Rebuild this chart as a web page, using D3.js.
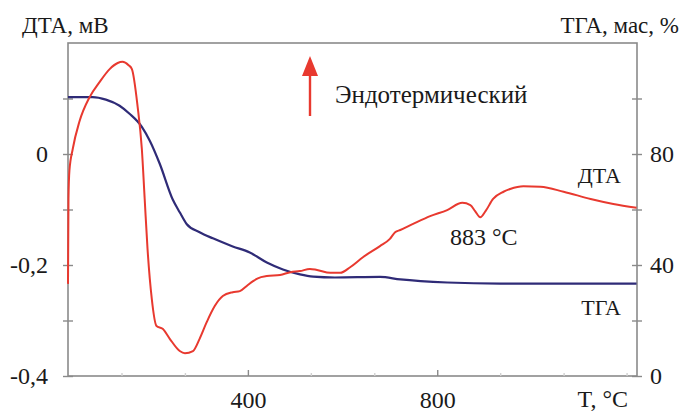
<!DOCTYPE html>
<html>
<head>
<meta charset="utf-8">
<script src="https://cdn.jsdelivr.net/npm/d3@7"></script>
</head>
<body style="margin:0">
<div id="root"></div>
<script>
// DTA curve, temperature (°C) and signal (mV)
const dtaT = [20, 21, 23, 30, 44, 66, 87, 108, 125, 135, 148, 155, 167, 176, 182, 188, 197, 207, 220, 235, 256, 267, 284, 298, 313, 330, 347, 368, 383, 400, 411, 421, 440, 468, 490, 510, 531, 546, 574, 595, 616, 643, 679, 700, 711, 722, 749, 785, 821, 853, 870, 880, 891, 902, 918, 940, 954, 982, 1018, 1067, 1124, 1172, 1221]
const dtaV = [-0.234, -0.08, -0.03, 0.009, 0.058, 0.103, 0.130, 0.153, 0.164, 0.166, 0.160, 0.153, 0.086, 0.009, -0.081, -0.171, -0.261, -0.310, -0.315, -0.333, -0.355, -0.359, -0.355, -0.333, -0.303, -0.274, -0.256, -0.249, -0.247, -0.236, -0.229, -0.224, -0.220, -0.218, -0.213, -0.211, -0.207, -0.209, -0.214, -0.214, -0.204, -0.186, -0.166, -0.153, -0.141, -0.137, -0.126, -0.112, -0.101, -0.088, -0.092, -0.103, -0.114, -0.103, -0.081, -0.068, -0.063, -0.058, -0.059, -0.068, -0.081, -0.090, -0.097]

// TGA curve, temperature (°C) and mass (%)
const tgaT = [20, 72, 100, 129, 150, 176, 193, 214, 241, 256, 271, 298, 326, 368, 404, 440, 474, 510, 538, 584, 679, 722, 821, 933, 1221]
const tgaM = [100.5, 100.5, 99.6, 97.4, 94.5, 89.8, 84.7, 76.4, 63.7, 59.0, 54.7, 51.8, 49.6, 46.7, 44.5, 40.9, 38.4, 36.6, 35.8, 35.5, 35.7, 34.8, 33.7, 33.3, 33.3]

const xMajor = [400, 800]
const xMinor = [133, 267, 533, 667, 933, 1067, 1200]
const yLeftMajor = [-0.4, -0.2, 0]
const yLeftMinor = [-0.3, -0.1, 0.1]
const yRightMajor = [0, 40, 80]
const yRightMinor = [20, 60, 100]

const width = 685
const height = 412
const plotLeft = 68, plotRight = 637, plotTop = 43, plotBottom = 376
const axisColor = '#8a8a8a'
const red = '#e8392f'
const blue = '#2f2b77'
const serif = "'Liberation Serif'"

const x = d3.scaleLinear().domain([20, 1222]).range([plotLeft, plotRight])
const yL = d3.scaleLinear().domain([-0.4, 0.2]).range([plotBottom, plotTop])
const yR = d3.scaleLinear().domain([0, 120]).range([plotBottom, plotTop])

const svg = d3.select('#root').append('svg')
  .attr('width', width)
  .attr('height', height)

const fmt = d => String(d).replace('.', ',')

// frame
svg.append('rect')
  .attr('x', plotLeft).attr('y', plotTop)
  .attr('width', plotRight - plotLeft).attr('height', plotBottom - plotTop)
  .attr('fill', 'none').attr('stroke', axisColor).attr('stroke-width', 1.6)

function styleAxis(g) {
  g.attr('font-family', null).attr('font-size', null)
  g.select('.domain').remove()
  g.selectAll('line').attr('stroke', axisColor).attr('stroke-width', 1.4)
  g.selectAll('text')
    .style('font-family', serif)
    .attr('font-size', 24)
    .attr('fill', '#1a1a1a')
}

// left axis: outer ticks with labels, inner ticks without
svg.append('g')
  .attr('transform', 'translate(' + plotLeft + ',0)')
  .call(d3.axisLeft(yL).tickValues(yLeftMajor.concat(yLeftMinor)).tickSize(5).tickPadding(15)
    .tickFormat(d => yLeftMajor.includes(d) ? fmt(d) : ''))
  .call(styleAxis)
svg.append('g')
  .attr('transform', 'translate(' + plotLeft + ',0)')
  .call(d3.axisRight(yL).tickValues(yLeftMajor.concat(yLeftMinor)).tickSize(5).tickFormat(''))
  .call(styleAxis)

// right axis
svg.append('g')
  .attr('transform', 'translate(' + plotRight + ',0)')
  .call(d3.axisRight(yR).tickValues(yRightMajor.concat(yRightMinor)).tickSize(5).tickPadding(8)
    .tickFormat(d => yRightMajor.includes(d) ? d : ''))
  .call(styleAxis)
svg.append('g')
  .attr('transform', 'translate(' + plotRight + ',0)')
  .call(d3.axisLeft(yR).tickValues(yRightMajor.concat(yRightMinor)).tickSize(5).tickFormat(''))
  .call(styleAxis)

// bottom axis: labels, major ticks pointing in, faint minor ticks
svg.append('g')
  .attr('transform', 'translate(0,' + plotBottom + ')')
  .call(d3.axisBottom(x).tickValues(xMajor).tickSize(0).tickPadding(15))
  .call(styleAxis)
svg.append('g')
  .attr('transform', 'translate(0,' + plotBottom + ')')
  .call(d3.axisTop(x).tickValues(xMajor).tickSize(6).tickFormat(''))
  .call(styleAxis)
svg.append('g')
  .attr('transform', 'translate(0,' + plotBottom + ')')
  .call(d3.axisTop(x).tickValues(xMinor).tickSize(3).tickFormat(''))
  .call(styleAxis)
  .selectAll('line').attr('stroke', '#d0d0d0')

// curves
const dtaLine = d3.line()
  .x(i => x(dtaT[i]))
  .y(i => yL(dtaV[i]))
  .curve(d3.curveMonotoneX)
const tgaLine = d3.line()
  .x(i => x(tgaT[i]))
  .y(i => yR(tgaM[i]))
  .curve(d3.curveMonotoneX)

svg.append('path')
  .attr('d', tgaLine(d3.range(tgaT.length)))
  .attr('fill', 'none').attr('stroke', blue).attr('stroke-width', 2.2)
svg.append('path')
  .attr('d', dtaLine(d3.range(dtaT.length)))
  .attr('fill', 'none').attr('stroke', red).attr('stroke-width', 2)

// titles and annotations
const label = (tx, ty, s, size, anchor) => svg.append('text')
  .attr('x', tx).attr('y', ty)
  .attr('text-anchor', anchor || 'start')
  .attr('fill', '#1a1a1a')
  .attr('font-size', size)
  .style('font-family', serif)
  .text(s)

label(22, 33, 'ДТА, мВ', 23)
label(679, 33, 'ТГА, мас, %', 23, 'end')
label(335, 103, 'Эндотермический', 25)
label(621, 183, 'ДТА', 22, 'end')
label(621, 315, 'ТГА', 22, 'end')
label(450, 245, '883 °C', 24)
label(628, 407, 'T, °C', 24, 'end')

// endothermic arrow
svg.append('line')
  .attr('x1', 310).attr('x2', 310)
  .attr('y1', 116).attr('y2', 70)
  .attr('stroke', red).attr('stroke-width', 2.4)
svg.append('path')
  .attr('d', 'M310,56 L318,76 L302,76 Z')
  .attr('fill', red)
</script>
</body>
</html>
